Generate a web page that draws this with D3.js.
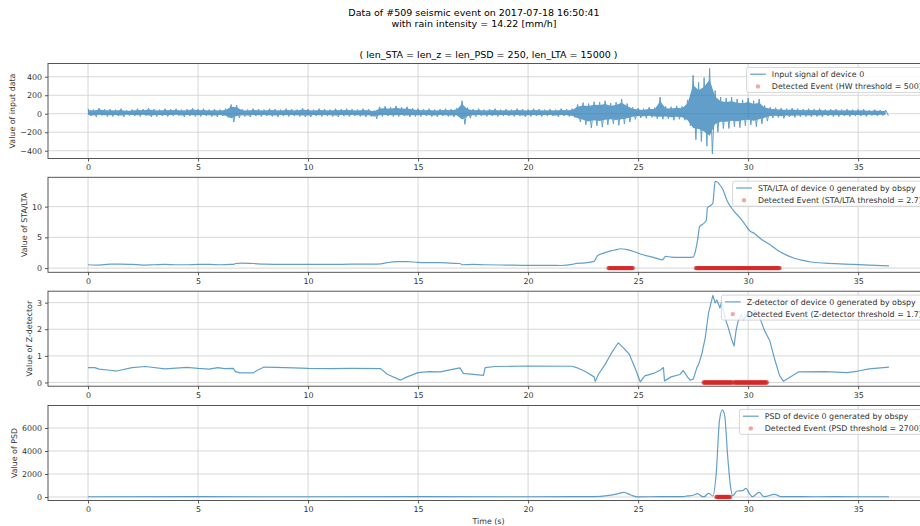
<!DOCTYPE html>
<html><head><meta charset="utf-8">
<script src="https://cdn.jsdelivr.net/npm/d3@7"></script>
<style>
body{margin:0;background:#fff}
text{font-family:"DejaVu Sans",sans-serif;}
</style>
</head><body><svg id="c" width="920" height="526"></svg>
<script>
// ---------------- data ----------------
const timeTicks = [0, 5, 10, 15, 20, 25, 30, 35];
const sigStep = 0.25; // seconds between envelope readings
const sigHi = [
  55,45,60,50, 50,45,55,40, 45,55,50,60, 50,45,55,50, 55,45,50,60,
  50,55,45,50, 45,55,100,95, 50,45,55,50, 45,55,50,45, 55,50,45,60,
  50,45,55,50, 45,55,50,55, 50,45,55,50, 35,75,80,70, 85,70,75,60,
  55,50,55,45, 50,55,50,60, 140,65,50,55, 45,50,55,45, 50,45,55,50,
  45,55,50,45, 50,45,55,50, 55,100,120,110, 130,125,140,115, 125,160,110,70,
  60,55,70,65, 180,80,75,85, 80,150,415,340, 390,490,250,180, 170,180,160,150,
  170,140,160,90, 70,65,60,55, 60,55,50,55, 50,55,45,50, 50,45,50,45,
  45,50,40,45, 40,40];
const sigLo = [
  -25,-35,-20,-30, -30,-25,-35,-20, -25,-30,-20,-35, -30,-25,-30,-25, -20,-35,-25,-30,
  -30,-25,-30,-35, -25,-40,-90,-45, -30,-35,-25,-30, -25,-30,-35,-25, -30,-25,-30,-35,
  -35,-25,-30,-25, -30,-35,-25,-30, -25,-30,-35,-30, -55,-30,-25,-30, -30,-25,-35,-30,
  -30,-25,-30,-35, -25,-30,-35,-30, -115,-50,-30,-25, -30,-25,-30,-25, -25,-30,-25,-35,
  -30,-25,-30,-25, -25,-35,-25,-30, -40,-90,-120,-155, -130,-145,-120,-110, -125,-110,-90,-60,
  -45,-50,-40,-55, -60,-55,-70,-60, -70,-130,-280,-300, -350,-435,-200,-160, -160,-140,-150,-130,
  -120,-140,-110,-80, -45,-40,-50,-35, -40,-35,-30,-35, -30,-35,-25,-30, -30,-25,-30,-25,
  -25,-30,-20,-25, -20,-20];

const staT = [0,0.5,1,1.5,2,2.5,3,3.5,4,4.5,5,5.5,6,6.5,6.6,6.7,7,7.5,8,9,10,11,12,13,13.3,13.6,14,14.5,15,15.5,16,16.5,16.9,17.0,17.5,18,19,20,21,21.5,22,22.2,22.6,23,23.15,23.4,23.75,24,24.2,24.5,24.8,25.1,25.4,25.7,26.1,26.25,26.5,26.8,27.2,27.5,27.6,27.7,27.8,28,28.1,28.15,28.3,28.4,28.45,28.5,28.6,28.7,28.85,29.05,29.3,29.7,30.1,30.3,30.6,31,31.3,31.7,32.1,32.5,32.85,33.5,34.4,35.5,36.4];
const staV = [0.55,0.5,0.65,0.65,0.6,0.5,0.55,0.6,0.55,0.55,0.6,0.6,0.55,0.6,0.6,0.75,0.8,0.75,0.65,0.6,0.6,0.6,0.65,0.65,0.7,0.9,1.05,1.05,0.95,0.9,0.9,0.8,0.75,0.55,0.6,0.55,0.5,0.45,0.45,0.43,0.6,0.76,0.85,1.1,2.0,2.4,2.8,3.0,3.15,3.0,2.7,2.3,2.0,1.75,1.35,1.9,1.8,1.75,1.75,1.8,2.7,4.5,6.8,7.3,7.8,9.8,10.2,10.6,12.5,14.1,14.0,13.6,12.8,10.9,9.5,7.9,6.0,5.6,4.7,3.8,3.0,2.2,1.6,1.25,1.0,0.8,0.65,0.5,0.38];

const zT = [0,0.3,0.5,1,1.3,2,2.6,3.5,4.5,5,5.5,5.9,6.2,6.6,6.7,6.9,7.5,7.7,8,9,10,11,12,13.3,13.6,14.2,14.5,15,15.5,16,16.5,16.9,17.06,17.97,18.05,18.5,20,22,22.2,22.6,23,23.05,23.2,23.5,23.8,24,24.1,24.3,24.6,24.85,25.1,25.3,25.7,26.0,26.15,26.2,26.5,26.9,27.05,27.25,27.36,27.51,27.67,27.75,27.89,28.05,28.2,28.35,28.4,28.5,28.58,28.65,28.72,28.8,28.95,29.1,29.25,29.36,29.45,29.55,29.7,29.8,29.93,30.05,30.15,30.3,30.4,30.53,30.75,30.98,31.2,31.43,31.6,31.88,32.3,33.5,34.5,35,35.5,36.4];
const zV = [0.56,0.56,0.5,0.46,0.43,0.56,0.6,0.51,0.57,0.53,0.5,0.56,0.52,0.53,0.41,0.36,0.36,0.46,0.58,0.56,0.53,0.52,0.53,0.52,0.31,0.09,0.21,0.37,0.41,0.40,0.48,0.55,0.34,0.27,0.56,0.6,0.62,0.61,0.56,0.41,0.21,0.04,0.31,0.68,1.12,1.37,1.49,1.33,1.06,0.56,0.02,0.25,0.34,0.46,0.56,0.06,0.21,0.3,0.45,0.2,0.09,0.13,0.56,0.68,1.06,1.68,2.61,3.11,3.27,2.99,3.1,2.95,2.8,3.05,2.43,2.05,1.62,1.37,1.94,2.32,2.55,2.35,2.55,2.4,2.5,2.74,2.6,2.43,1.94,1.58,0.89,0.26,0.05,0.19,0.4,0.41,0.37,0.43,0.51,0.58];

const psdT = [0,5,10,15,20,22,23,23.6,24,24.36,24.67,25,26,27,27.25,27.5,27.7,27.9,28,28.2,28.4,28.55,28.7,28.83,28.94,29.06,29.2,29.3,29.5,29.75,29.9,30.05,30.2,30.5,30.73,31.2,31.5,32,33,34,35,36.4];
const psdV = [20,25,20,30,20,25,30,116,250,400,170,10,30,30,90,150,290,60,30,320,90,2060,6700,7570,7000,3800,900,116,520,550,750,320,30,400,30,230,30,40,20,30,20,20];

const hwEvents = [];
const staEvents = [[23.65, 24.77], [27.62, 31.44]];
const zEvents = [[27.97, 29.3], [29.36, 30.87]];
const psdEvents = [[28.55, 29.2]];

const sigTicks = [-400, -200, 0, 200, 400];
const staTicks = [0, 5, 10];
const zTicks = [0, 1, 2, 3];
const psdTicks = [0, 2000, 4000, 6000];

const yLabels = ["Value of input data", "Value of STA/LTA", "Value of Z-detector", "Value of PSD"];
const lineNames = ["Input signal of device 0", "STA/LTA of device 0 generated by obspy",
  "Z-detector of device 0 generated by obspy", "PSD of device 0 generated by obspy"];
const eventNames = ["Detected Event (HW threshold = 500)", "Detected Event (STA/LTA threshold = 2.7)",
  "Detected Event (Z-detector threshold = 1.7)", "Detected Event (PSD threshold = 2700)"];
const titleLines = ["Data of #509 seismic event on 2017-07-18 16:50:41", "with rain intensity = 14.22 [mm/h]"];
const subTitle = "( len_STA = len_z = len_PSD = 250, len_LTA = 15000 )";
const xLabel = "Time (s)";

// ---------------- build series ----------------
const sigPts = [];
sigHi.forEach((h, i) => {
  sigPts.push([i * sigStep, h]);
  sigPts.push([i * sigStep + sigStep / 2, sigLo[i]]);
});
const sigEnv = sigHi.map((h, i) => [i * sigStep, h, sigLo[i]]);
const zip = (a, b) => a.map((t, i) => [t, b[i]]);

const panels = [
  {pts: sigPts, env: sigEnv, ticks: sigTicks, dom: [-484, 543], ev: hwEvents, curve: d3.curveLinear},
  {pts: zip(staT, staV), ticks: staTicks, dom: [-0.68, 14.77], ev: staEvents, curve: d3.curveMonotoneX},
  {pts: zip(zT, zV), ticks: zTicks, dom: [-0.14, 3.43], ev: zEvents, curve: d3.curveLinear},
  {pts: zip(psdT, psdV), ticks: psdTicks, dom: [-304, 7957], ev: psdEvents, curve: d3.curveMonotoneX}
];

// ---------------- layout ----------------
const svg = d3.select("#c");
const L = 48, R = 929, H = 95;
const tops = [63.5, 177.3, 291.2, 405.5];
const FS = 7.9;
const lineColor = "#1f77b4", lineOpacity = 0.7;
const red = "#d62728";
const x = d3.scaleLinear().domain([-1.82, 38.22]).range([L, R]);

svg.append("text").attr("x", 474).attr("y", 15.5).attr("text-anchor", "middle")
  .attr("font-size", 9.5).attr("fill", "#000").text(titleLines[0]);
svg.append("text").attr("x", 474).attr("y", 27).attr("text-anchor", "middle")
  .attr("font-size", 9.5).attr("fill", "#000").text(titleLines[1]);
svg.append("text").attr("x", (L + R) / 2).attr("y", 57.5).attr("text-anchor", "middle")
  .attr("font-size", 9.5).attr("fill", "#000").text(subTitle);

panels.forEach((p, k) => {
  const top = tops[k], bot = top + H;
  const y = d3.scaleLinear().domain(p.dom).range([bot, top]);
  const g = svg.append("g");
  const cid = "clip" + k;
  svg.append("clipPath").attr("id", cid).append("rect")
    .attr("x", L).attr("y", top).attr("width", R - L).attr("height", H);

  // grid
  g.selectAll(".gx").data(timeTicks).join("line")
    .attr("x1", d => x(d)).attr("x2", d => x(d)).attr("y1", top).attr("y2", bot)
    .attr("stroke", "#d3d3d3").attr("stroke-width", 0.9);
  g.selectAll(".gy").data(p.ticks).join("line")
    .attr("x1", L).attr("x2", R).attr("y1", d => y(d)).attr("y2", d => y(d))
    .attr("stroke", "#d3d3d3").attr("stroke-width", 0.9);

  const plot = g.append("g").attr("clip-path", `url(#${cid})`);
  const series = plot.append("g").attr("opacity", lineOpacity);
  if (p.env) {
    series.append("path").datum(p.env)
      .attr("d", d3.area().x(d => x(d[0])).y0(d => y(d[2] * 0.55)).y1(d => y(d[1] * 0.75)))
      .attr("fill", lineColor);
  }
  series.append("path").datum(p.pts)
    .attr("d", d3.line().x(d => x(d[0])).y(d => y(d[1])).curve(p.curve))
    .attr("fill", "none").attr("stroke", lineColor)
    .attr("stroke-width", p.env ? 1 : 1.2).attr("stroke-linejoin", "round");

  const dots = [];
  p.ev.forEach(([a, b]) => d3.range(a, b + 1e-9, 0.02).forEach(t => dots.push(t)));
  plot.selectAll("circle.ev").data(dots).join("circle")
    .attr("cx", d => x(d)).attr("cy", y(0)).attr("r", 2.2)
    .attr("fill", red).attr("fill-opacity", 0.4);

  // spines
  g.append("rect").attr("x", L).attr("y", top).attr("width", R - L).attr("height", H)
    .attr("fill", "none").attr("stroke", "#444").attr("stroke-width", 0.9);

  // axes
  const ax = g.append("g").attr("transform", `translate(0,${bot})`)
    .call(d3.axisBottom(x).tickValues(timeTicks).tickSize(3).tickPadding(3).tickFormat(d3.format("d")));
  const ay = g.append("g").attr("transform", `translate(${L},0)`)
    .call(d3.axisLeft(y).tickValues(p.ticks).tickSize(3).tickPadding(3).tickFormat(d3.format("d")));
  [ax, ay].forEach(a => {
    a.select(".domain").remove();
    a.selectAll("line").attr("stroke", "#444").attr("stroke-width", 0.9);
    a.selectAll("text").attr("font-size", FS).attr("fill", "#333")
      .attr("font-family", '"DejaVu Sans",sans-serif');
  });

  // y label
  let minX = L;
  ay.selectAll("text").each(function () { const b = this.getBBox(); minX = Math.min(minX, L - 6 - b.width); });
  const lx = minX - 3.2 - 4.6;
  g.append("text").attr("transform", `translate(${lx},${(top + bot) / 2}) rotate(-90)`)
    .attr("text-anchor", "middle").attr("dominant-baseline", "central")
    .attr("font-size", FS).attr("fill", "#333").text(yLabels[k]);

  // legend
  const lg = svg.append("g");
  const t1 = lg.append("text").attr("font-size", FS).attr("fill", "#333").text(lineNames[k]);
  const t2 = lg.append("text").attr("font-size", FS).attr("fill", "#333").text(eventNames[k]);
  const tw = Math.max(t1.node().getComputedTextLength(), t2.node().getComputedTextLength());
  const boxR = R - 3.9, boxT = top + 3.9, boxH = 25;
  const boxL = boxR - (3.2 + 15.8 + 6.3 + tw + 3.2);
  lg.insert("rect", "text").attr("x", boxL).attr("y", boxT).attr("width", boxR - boxL).attr("height", boxH)
    .attr("rx", 2).attr("fill", "#fff").attr("fill-opacity", 0.8).attr("stroke", "#cccccc").attr("stroke-width", 0.8);
  const r1 = boxT + 6.8, r2 = boxT + 19;
  lg.append("line").attr("x1", boxL + 3.5).attr("x2", boxL + 3.5 + 15.8).attr("y1", r1).attr("y2", r1)
    .attr("stroke", lineColor).attr("stroke-opacity", lineOpacity).attr("stroke-width", 1.2);
  lg.append("circle").attr("cx", boxL + 3.5 + 7.9).attr("cy", r2).attr("r", 2.2)
    .attr("fill", red).attr("fill-opacity", 0.4);
  const tx = boxL + 3.2 + 15.8 + 6.3;
  t1.attr("x", tx).attr("y", r1 + 2.9);
  t2.attr("x", tx).attr("y", r2 + 2.9);
});

svg.append("text").attr("x", (L + R) / 2).attr("y", 524).attr("text-anchor", "middle")
  .attr("font-size", FS).attr("fill", "#333").text(xLabel);
</script>
</body></html>
